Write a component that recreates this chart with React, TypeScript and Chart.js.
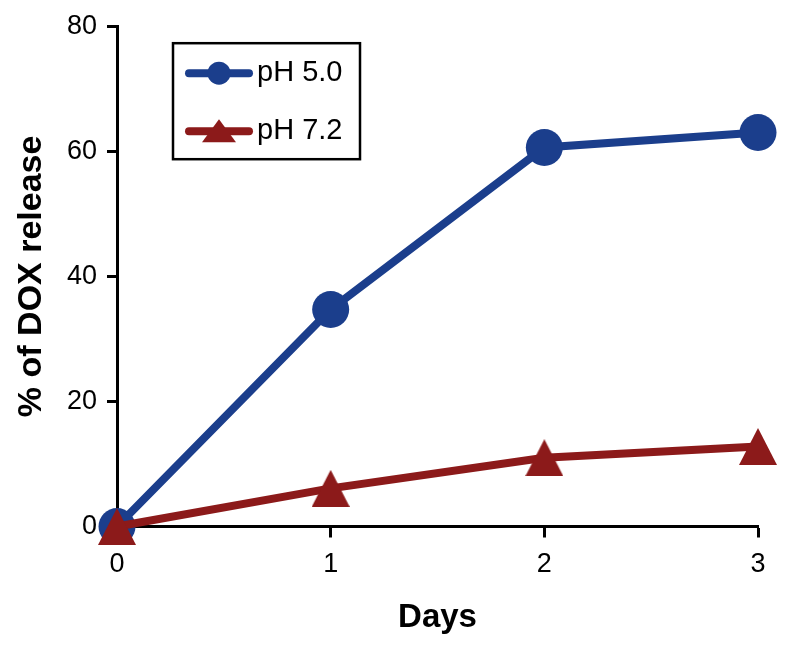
import React, { useEffect, useRef } from 'react';
import { Chart, registerables } from 'chart.js';

Chart.register(...registerables);

const days = [0, 1, 2, 3];
const ph50 = [0, 34.7, 60.6, 63.0];
const ph72 = [0, 6.1, 11.0, 12.8];
const yTicks = [0, 20, 40, 60, 80];
const xTicks = [0, 1, 2, 3];
const seriesLabels = ['pH 5.0', 'pH 7.2'];
const xTitle = 'Days';
const yTitle = '% of DOX release';

const BLUE = '#1B3E8C';
const RED = '#8C1A1A';
const FONT = '"Liberation Sans", Arial, Helvetica, sans-serif';

function makeTriangle(w: number, h: number, color: string) {
  const c = document.createElement('canvas');
  c.width = w;
  c.height = h;
  const g = c.getContext('2d')!;
  g.fillStyle = color;
  g.beginPath();
  g.moveTo(w / 2, 0);
  g.lineTo(w, h);
  g.lineTo(0, h);
  g.closePath();
  g.fill();
  return c;
}

const legendPlugin = {
  id: 'boxLegend',
  afterDatasetsDraw(chart: any) {
    const { ctx, chartArea } = chart;
    const x0 = chartArea.left + 56;
    const y0 = chartArea.top + 17;
    const w = 187;
    const h = 116;
    ctx.save();
    ctx.lineWidth = 2.5;
    ctx.strokeStyle = '#000';
    ctx.strokeRect(x0, y0, w, h);
    const rows = [
      { label: seriesLabels[0], color: BLUE, y: y0 + 30, marker: 'circle' },
      { label: seriesLabels[1], color: RED, y: y0 + 88, marker: 'triangle' },
    ];
    rows.forEach((r) => {
      ctx.strokeStyle = r.color;
      ctx.lineWidth = 8;
      ctx.lineCap = 'round';
      ctx.beginPath();
      ctx.moveTo(x0 + 16, r.y);
      ctx.lineTo(x0 + 76, r.y);
      ctx.stroke();
      ctx.fillStyle = r.color;
      const mx = x0 + 46;
      ctx.beginPath();
      if (r.marker === 'circle') {
        ctx.arc(mx, r.y, 11.5, 0, Math.PI * 2);
      } else {
        ctx.moveTo(mx, r.y - 12);
        ctx.lineTo(mx + 17, r.y + 11);
        ctx.lineTo(mx - 17, r.y + 11);
        ctx.closePath();
      }
      ctx.fill();
      ctx.fillStyle = '#000';
      ctx.font = `29px ${FONT}`;
      ctx.textAlign = 'left';
      ctx.textBaseline = 'middle';
      ctx.fillText(r.label, x0 + 84, r.y);
    });
    ctx.restore();
  },
};

export default function App() {
  const ref = useRef<HTMLCanvasElement>(null);
  useEffect(() => {
    document.body.style.margin = '0';
    const tri = makeTriangle(38, 37, RED);
    const chart = new Chart(ref.current!, {
      type: 'line',
      data: {
        datasets: [
          {
            label: seriesLabels[1],
            data: days.map((d, i) => ({ x: d, y: ph72[i] })),
            borderColor: RED,
            backgroundColor: RED,
            borderWidth: 8,
            borderCapStyle: 'round',
            pointStyle: tri as any,
            pointRadius: 19,
            pointBorderWidth: 0,
            clip: false as any,
          },
          {
            label: seriesLabels[0],
            data: days.map((d, i) => ({ x: d, y: ph50[i] })),
            borderColor: BLUE,
            backgroundColor: BLUE,
            borderWidth: 8,
            borderCapStyle: 'round',
            pointStyle: 'circle',
            pointRadius: 18.5,
            pointBorderWidth: 0,
            clip: false as any,
          },
        ],
      },
      options: {
        animation: false,
        responsive: false,
        layout: { padding: { top: 25, right: 36, left: 0, bottom: 0 } },
        plugins: { legend: { display: false }, tooltip: { enabled: false } },
        scales: {
          x: {
            type: 'linear',
            min: 0,
            max: 3,
            afterFit: (s: any) => {
              s.height = 122.5;
            },
            afterBuildTicks: (s: any) => {
              s.ticks = xTicks.map((v) => ({ value: v }));
            },
            grid: {
              drawOnChartArea: false,
              drawTicks: true,
              tickLength: 11,
              tickWidth: 3,
              tickColor: '#000',
            },
            border: { display: true, color: '#000', width: 3 },
            ticks: {
              color: '#000',
              font: { family: FONT, size: 27 },
              padding: 11,
              maxRotation: 0,
            },
            title: {
              display: true,
              text: xTitle,
              color: '#000',
              font: { family: FONT, size: 33, weight: 'bold' },
              padding: { top: 0, bottom: 11 },
            },
          },
          y: {
            type: 'linear',
            min: 0,
            max: 80,
            afterFit: (s: any) => {
              s.width = 117;
            },
            afterBuildTicks: (s: any) => {
              s.ticks = yTicks.map((v) => ({ value: v }));
            },
            grid: {
              drawOnChartArea: false,
              drawTicks: true,
              tickLength: 10,
              tickWidth: 3,
              tickColor: '#000',
            },
            border: { display: true, color: '#000', width: 3 },
            ticks: {
              color: '#000',
              font: { family: FONT, size: 27 },
              padding: 10,
            },
            title: {
              display: true,
              text: yTitle,
              color: '#000',
              font: { family: FONT, size: 34, weight: 'bold' },
              padding: { top: 11, bottom: 0 },
            },
          },
        },
      },
      plugins: [legendPlugin],
    });
    return () => chart.destroy();
  }, []);
  return (
    <div style={{ position: 'absolute', left: 0, top: 0, width: 794, height: 649, background: '#fff' }}>
      <canvas ref={ref} width={794} height={649} />
    </div>
  );
}
